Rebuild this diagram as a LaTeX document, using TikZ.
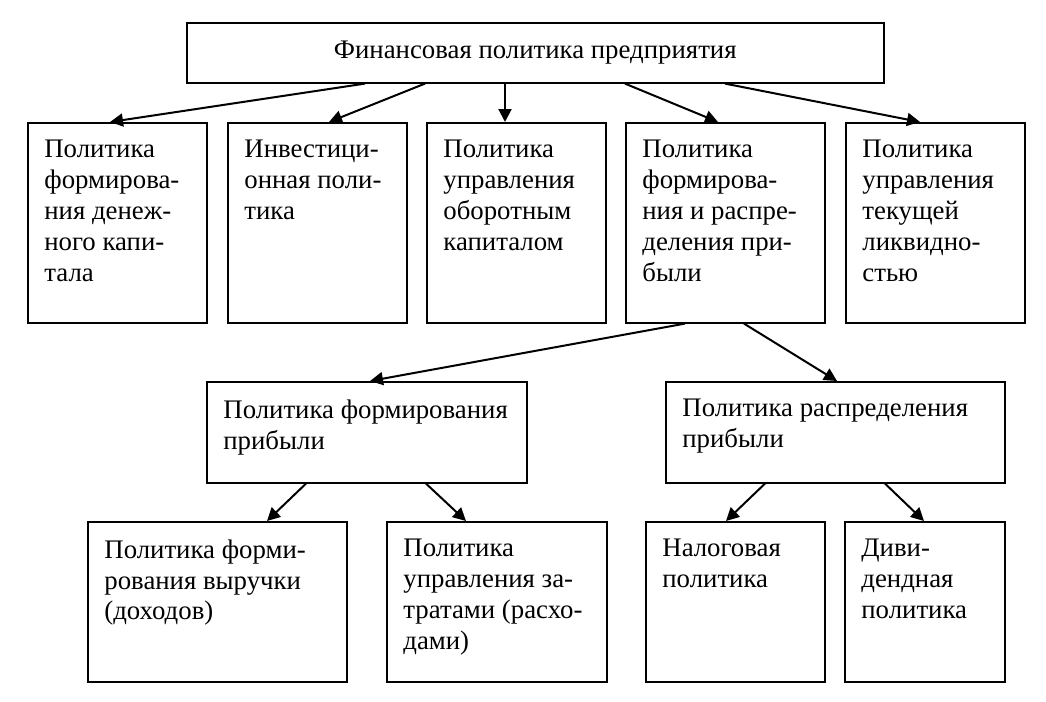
\documentclass[tikz,border=0pt]{standalone}
\usepackage{fontspec}
\setmainfont{Liberation Serif}
\usetikzlibrary{arrows.meta,positioning,calc}

\tikzset{
    box/.style={draw, line width=0.8pt, anchor=north west, inner sep=0pt},
    txt/.style={inner sep=0pt, align=left, font=\fontsize{13.4}{15.5}\selectfont},
    arr/.style={-{Triangle[length=6.5pt,width=6.5pt]}, line width=1pt},
}

\begin{document}
\begin{tikzpicture}[x=0.5pt, y=-0.5pt, node distance=9pt and 8.5pt]

\useasboundingbox (0, 0) rectangle (1046, 702);

% top
\node[box, minimum width=348.5pt, minimum height=30pt, txt] (fin) at (186, 22) {Финансовая политика предприятия};

% second row
\node[box, minimum width=89.5pt, minimum height=100pt] (b1) at (27, 122) {};
\node[box, minimum width=89.5pt, minimum height=100pt] (b2) at (227, 122) {};
\node[box, minimum width=89.5pt, minimum height=100pt] (b3) at (426, 122) {};
\node[box, minimum width=99.5pt, minimum height=100pt] (b4) at (625, 122) {};
\node[box, minimum width=89.5pt, minimum height=100pt] (b5) at (845, 122) {};

\node[txt, below right=of b1.north west] (b1t) {Политика\\формирова-\\ния денеж-\\ного капи-\\тала};
\node[txt, below right=of b2.north west] (b2t) {Инвестици-\\онная поли-\\тика};
\node[txt, below right=of b3.north west] (b3t) {Политика\\управления\\оборотным\\капиталом};
\node[txt, below right=of b4.north west] (b4t) {Политика\\формирова-\\ния и распре-\\деления при-\\были};
\node[txt, below right=of b5.north west] (b5t) {Политика\\управления\\текущей\\ликвидно-\\стью};

% third row
\node[box, minimum width=160pt, minimum height=50.5pt] (pf) at (206, 381) {};
\node[box, minimum width=169.5pt, minimum height=50.5pt] (pr) at (665, 381) {};

\node[txt, below right=of pf.north west] (pft) {Политика формирования\\прибыли};
\node[txt, below right=of pr.north west] (prt) {Политика распределения\\прибыли};

% fourth row
\node[box, minimum width=129.5pt, minimum height=80pt] (c1) at (87, 521) {};
\node[box, minimum width=110pt, minimum height=80pt] (c2) at (386, 521) {};
\node[box, minimum width=89.5pt, minimum height=80pt] (c3) at (645, 521) {};
\node[box, minimum width=80pt, minimum height=80pt] (c4) at (844, 521) {};

\node[txt, below right=of c1.north west] (c1t) {Политика форми-\\рования выручки\\(доходов)};
\node[txt, below right=of c2.north west] (c2t) {Политика\\управления за-\\тратами (расхо-\\дами)};
\node[txt, below right=of c3.north west] (c3t) {Налоговая\\политика};
\node[txt, below right=of c4.north west] (c4t) {Диви-\\дендная\\политика};

% arrows
\draw[arr] ($(fin.south west)+(179, 0)$) -- ($(b1.north west)+(83, 0)$);
\draw[arr] ($(fin.south west)+(239, 0)$) -- ($(b2.north west)+(102, 0)$);
\draw[arr] ($(fin.south west)+(319, 0)$) -- ($(b3.north west)+(79, 0)$);
\draw[arr] ($(fin.south west)+(439, 0)$) -- ($(b4.north west)+(93, 0)$);
\draw[arr] ($(fin.south west)+(539, 0)$) -- ($(b5.north west)+(75, 0)$);

\draw[arr] ($(b4.south west)+(60, 0)$) -- ($(pf.north west)+(164, 0)$);
\draw[arr] ($(b4.south west)+(119, 0)$) -- ($(pr.north west)+(172, 0)$);

\draw[arr] ($(pf.south west)+(100, 0)$) -- ($(c1.north west)+(180, 0)$);
\draw[arr] ($(pf.south west)+(220, 0)$) -- ($(c2.north west)+(80, 0)$);
\draw[arr] ($(pr.south west)+(100, 0)$) -- ($(c3.north west)+(81, 0)$);
\draw[arr] ($(pr.south west)+(220, 0)$) -- ($(c4.north west)+(80, 0)$);

\end{tikzpicture}
\end{document}
